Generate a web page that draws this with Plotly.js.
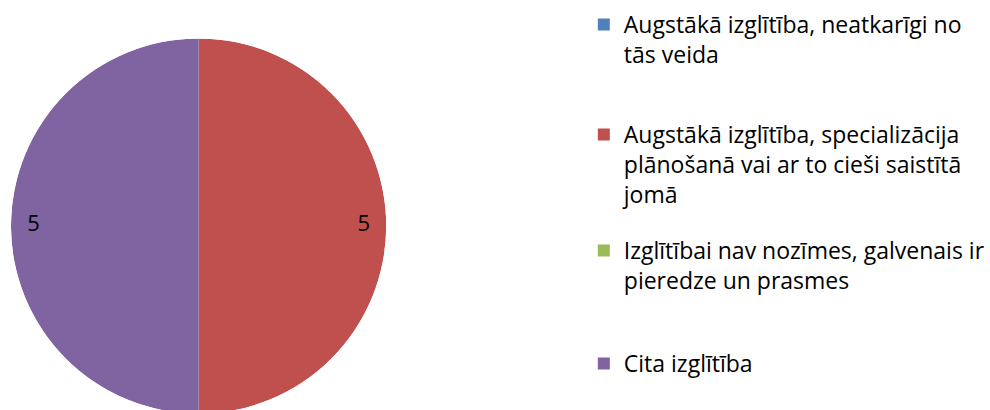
<!DOCTYPE html>
<html><head><meta charset="utf-8">
<script src="https://cdn.plot.ly/plotly-3.0.1.min.js"></script>
<style>html,body{margin:0;padding:0;overflow:hidden;background:#fff}</style>
</head><body>
<div id="chart" style="width:990px;height:452px"></div>
<script>
const labels = [
  "Augstākā izglītība, neatkarīgi no<br>tās veida",
  "Augstākā izglītība, specializācija<br>plānošanā vai ar to cieši saistītā<br>jomā",
  "Izglītībai nav nozīmes, galvenais ir<br>pieredze un prasmes",
  "Cita izglītība"
];
const values = [0, 5, 0, 5];
const colors = ["#4F81BD", "#C0504D", "#9BBB59", "#8064A2"];

const W = 990, H = 452;
const cx = 199, cy = 226, R = 188;
const dom = {x: [(cx - R) / W, (cx + R) / W], y: [(H - cy - R) / H, (H - cy + R) / H]};
const legendTops = [3, 113, 229, 342];
const legendFont = {family: "Open Sans, sans-serif", size: 23, color: "#000"};

const total = values.reduce((a, b) => a + b, 0);
const traces = [];
const thetas = [], texts = [], rs = [];
let cum = 0;
values.forEach((v, i) => {
  const mid = (cum + v / 2) / total * 360;
  traces.push({
    type: "barpolar",
    name: labels[i],
    r: [1],
    theta: [mid],
    width: [v / total * 360],
    marker: {color: colors[i], line: {width: 0}},
    legend: i === 0 ? "legend" : "legend" + (i + 1),
    hoverinfo: "none"
  });
  thetas.push(mid);
  texts.push(v > 0 ? String(v) : "");
  rs.push(0.88);
  cum += v;
});
traces.push({
  type: "scatterpolar",
  mode: "text",
  r: rs,
  theta: thetas,
  text: texts,
  textposition: "middle center",
  textfont: {family: "Open Sans, sans-serif", size: 22, color: "#000"},
  showlegend: false,
  hoverinfo: "none"
});

const layout = {
  width: W, height: H,
  margin: {l: 0, r: 0, t: 0, b: 0},
  paper_bgcolor: "#fff",
  showlegend: true,
  polar: {
    domain: dom,
    bgcolor: "rgba(0,0,0,0)",
    hole: 0,
    bargap: 0,
    radialaxis: {range: [0, 1], visible: false},
    angularaxis: {rotation: 90, direction: "clockwise", visible: false}
  }
};
legendTops.forEach((t, i) => {
  layout[i === 0 ? "legend" : "legend" + (i + 1)] = {
    x: 585 / W, y: 1 - t / H, xanchor: "left", yanchor: "top",
    valign: "top", font: legendFont,
    itemwidth: 30, bgcolor: "rgba(0,0,0,0)"
  };
});

Plotly.newPlot("chart", traces, layout, {displayModeBar: false, staticPlot: true});
</script>
</body></html>
